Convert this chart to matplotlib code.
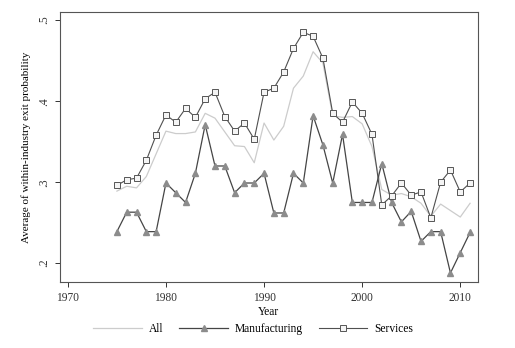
import matplotlib
matplotlib.use("Agg")
import matplotlib.pyplot as plt

plt.rcParams["font.family"] = ["Liberation Serif", "DejaVu Serif"]

years = list(range(1975, 2012))
all_firms = [0.289, 0.295, 0.293, 0.307, 0.335, 0.363, 0.360, 0.360, 0.362, 0.385,
             0.379, 0.362, 0.345, 0.344, 0.324, 0.373, 0.352, 0.369, 0.416, 0.431,
             0.461, 0.447, 0.382, 0.380, 0.381, 0.372, 0.344, 0.291, 0.284, 0.286,
             0.282, 0.274, 0.258, 0.273, 0.265, 0.257, 0.274]
manufacturing = [0.239, 0.263, 0.263, 0.239, 0.239, 0.299, 0.287, 0.275, 0.311, 0.371,
                 0.320, 0.320, 0.287, 0.299, 0.299, 0.311, 0.262, 0.262, 0.311, 0.299,
                 0.382, 0.346, 0.299, 0.359, 0.275, 0.275, 0.275, 0.323, 0.275, 0.251,
                 0.264, 0.227, 0.239, 0.239, 0.188, 0.213, 0.238]
services = [0.296, 0.303, 0.305, 0.327, 0.358, 0.383, 0.374, 0.391, 0.380, 0.403,
            0.411, 0.381, 0.363, 0.373, 0.353, 0.411, 0.416, 0.436, 0.465, 0.485,
            0.480, 0.453, 0.385, 0.374, 0.399, 0.385, 0.359, 0.272, 0.283, 0.299,
            0.284, 0.288, 0.256, 0.300, 0.315, 0.288, 0.299]

x_ticks = [1970, 1980, 1990, 2000, 2010]
y_ticks = [0.2, 0.3, 0.4, 0.5]
y_tick_labels = [".2", ".3", ".4", ".5"]

fig = plt.figure(figsize=(5.15, 3.48), dpi=100)
ax = fig.add_axes([0.1165, 0.19, 0.8115, 0.7755])

ax.plot(years, all_firms, color="#cccccc", lw=0.9, label="All")
ax.plot(years, manufacturing, color="#454545", lw=0.9, marker="^", ms=5,
        mfc="#8c8c8c", mec="#8c8c8c", label="Manufacturing")
ax.plot(years, services, color="#505050", lw=0.8, marker="s", ms=4.5,
        mfc="#f4f4f4", mec="#555555", mew=0.7, label="Services")

ax.set_xlim(1969.2, 2011.8)
ax.set_ylim(0.177, 0.51)
ax.set_xticks(x_ticks)
ax.set_yticks(y_ticks)
ax.set_yticklabels(y_tick_labels, rotation=90, va="center")
ax.tick_params(labelsize=8.3, colors="#333333", length=3.5, width=0.7)
for s in ax.spines.values():
    s.set_color("#555555")
    s.set_linewidth(0.8)

ax.set_xlabel("Year", fontsize=8.3, labelpad=1.5)
ax.set_ylabel("Average of within-industry exit probability", fontsize=8, labelpad=5)

fig.legend(loc="center", bbox_to_anchor=(0.492, 0.055), ncol=3, frameon=False,
           fontsize=8.3, handlelength=4.2, handletextpad=0.6, columnspacing=1.4)

fig.savefig("out.png", dpi=100)
